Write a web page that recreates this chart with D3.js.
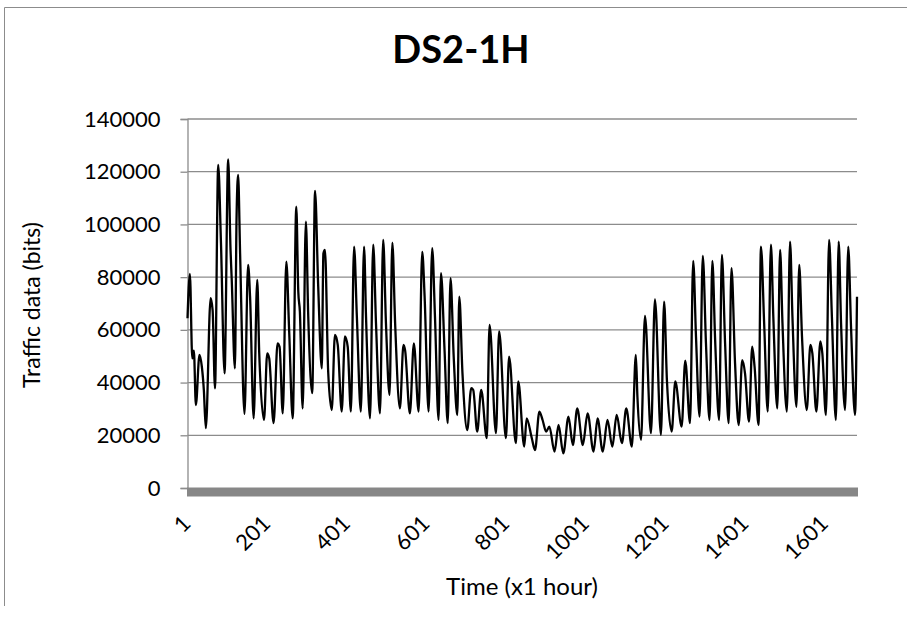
<!DOCTYPE html>
<html>
<head>
<meta charset="utf-8">
<script src="https://cdn.jsdelivr.net/npm/d3@7"></script>
<style>
  body { margin: 0; background: #fff; }
  svg { display: block; font-family: Lato, "Noto Sans", sans-serif; }
</style>
</head>
<body>
<svg width="907" height="630"></svg>
<script>
// hour index (x1 hour) and traffic in bits
var hours = [1, 7, 13, 17, 22, 31, 37, 42, 47, 59, 64, 70, 78, 85, 94, 103, 109, 112, 120, 124,
  128, 133, 144, 153, 158, 167, 176, 181, 193, 201, 206, 217, 227, 232, 240, 249, 256, 265, 274, 279,
  283, 290, 298, 304, 314, 321, 329, 338, 342, 346, 354, 363, 371, 378, 388, 396, 403, 411, 419, 426,
  436, 444, 449, 459, 467, 474, 484, 492, 499, 508, 515, 522, 534, 543, 547, 559, 569, 581, 590, 596,
  606, 615, 622, 631, 637, 646, 654, 661, 669, 678, 683, 691, 703, 713, 718, 728, 738, 752, 759, 775,
  783, 800, 808, 825, 831, 846, 852, 865, 873, 884, 892, 901, 909, 922, 932, 944, 957, 968, 979, 993,
  1005, 1020, 1030, 1043, 1055, 1067, 1078, 1091, 1102, 1116, 1126, 1130, 1139, 1149, 1164, 1174, 1189, 1197, 1204, 1216,
  1225, 1241, 1250, 1262, 1270, 1277, 1286, 1294, 1302, 1311, 1318, 1325, 1335, 1342, 1350, 1359, 1366, 1375, 1384, 1393,
  1400, 1410, 1418, 1424, 1434, 1440, 1448, 1457, 1465, 1471, 1481, 1488, 1494, 1505, 1513, 1519, 1529, 1536, 1543, 1555,
  1564, 1569, 1579, 1589, 1594, 1603, 1611, 1618, 1628, 1635, 1641, 1651, 1659, 1666, 1676, 1681];
var traffic = [64400, 81200, 49200, 52100, 31500, 50500, 46000, 37200, 22700, 72000, 67500, 37800, 122600, 92900, 43500, 124700, 90300, 79000, 45400, 101700,
  118800, 89000, 28100, 84600, 72600, 26400, 79000, 51100, 25800, 51100, 49200, 24600, 54900, 53600, 28300, 85900, 60000, 26400, 106700, 74500,
  66900, 30200, 101100, 65000, 36000, 112700, 76400, 45400, 89000, 90300, 44200, 29600, 58100, 54300, 29000, 57500, 53600, 29000, 91600, 65000,
  29000, 91600, 65000, 26400, 92300, 62500, 28300, 94100, 62500, 35300, 93100, 62500, 30200, 54300, 52300, 28300, 54900, 29000, 89600, 72600,
  29000, 91000, 65000, 25800, 81500, 52400, 24600, 79600, 49800, 27700, 72600, 43500, 22000, 37900, 37200, 21400, 37200, 18900, 61900, 20800,
  59400, 18900, 49800, 17000, 40400, 15700, 26400, 18900, 14400, 29000, 25800, 21400, 23300, 13800, 23900, 13100, 27100, 16300, 30200, 16300,
  28300, 13800, 26400, 13800, 25800, 15700, 27700, 17000, 30200, 15700, 50500, 34600, 18300, 65300, 20800, 71600, 20200, 70700, 41000, 21400,
  40400, 23300, 48300, 24600, 86200, 57400, 27100, 88100, 54900, 25800, 86200, 56200, 25800, 88400, 54900, 24600, 83400, 47300, 23900, 48500,
  43500, 25200, 53600, 46000, 23900, 91600, 62500, 29000, 92300, 65000, 30200, 90300, 62500, 29000, 93500, 65000, 30800, 84600, 57400, 29600,
  54300, 51100, 29000, 55600, 51100, 27700, 94100, 65000, 25800, 93500, 62500, 29600, 91600, 61200, 27700, 72600];
var yTicks = [0, 20000, 40000, 60000, 80000, 100000, 120000, 140000];
var xTicks = [1, 201, 401, 601, 801, 1001, 1201, 1401, 1601];

var svg = d3.select('svg');
var gridColor = '#8c8c8c';

var x = d3.scaleLinear().domain([1, 1681]).range([187.5, 857]);
var y = d3.scaleLinear().domain([0, 140000]).range([488, 119]);

// chart frame (left and top edges visible)
svg.append('path')
    .attr('d', 'M4.5,606V7.5H907')
    .attr('fill', 'none')
    .attr('stroke', gridColor)
    .attr('stroke-width', 1);

// gridlines
svg.append('g')
  .selectAll('line')
    .data(yTicks.slice(1))
  .enter().append('line')
    .attr('x1', x.range()[0]).attr('x2', x.range()[1])
    .attr('y1', function(d){ return y(d); })
    .attr('y2', function(d){ return y(d); })
    .attr('stroke', gridColor)
    .attr('stroke-width', 1.3);

// y axis
var yAxis = svg.append('g')
    .attr('transform', 'translate(187.5,0)')
    .call(d3.axisLeft(y).tickValues(yTicks).tickSize(7).tickPadding(20).tickFormat(d3.format('d')));
yAxis.select('.domain').attr('stroke', gridColor).attr('stroke-width', 1.3);
yAxis.selectAll('.tick line').attr('stroke', gridColor).attr('stroke-width', 1.3);
yAxis.selectAll('.tick text')
    .attr('font-size', 22)
    .attr('font-family', 'Lato, sans-serif')
    .attr('fill', '#000');

// thick category axis bar
svg.append('rect')
    .attr('x', 187)
    .attr('y', 487.5)
    .attr('width', 858 - 187)
    .attr('height', 9)
    .attr('fill', '#878787');

// x tick labels, rotated like the spreadsheet export
var xAxis = svg.append('g')
    .attr('transform', 'translate(0,488)')
    .call(d3.axisBottom(x).tickValues(xTicks).tickSize(0).tickFormat(d3.format('d')));
xAxis.select('.domain').remove();
xAxis.selectAll('.tick text')
    .attr('font-size', 22)
    .attr('font-family', 'Lato, sans-serif')
    .attr('fill', '#000')
    .attr('text-anchor', 'end')
    .attr('dy', null)
    .attr('y', null)
    .attr('transform', 'translate(4,37) rotate(-45)');

// series line
var line = d3.line()
    .x(function(d, i){ return x(hours[i]); })
    .y(function(d){ return y(d); })
    .curve(d3.curveMonotoneX);

svg.append('path')
    .datum(traffic)
    .attr('d', line)
    .attr('fill', 'none')
    .attr('stroke', '#000')
    .attr('stroke-width', 2.3)
    .attr('stroke-linejoin', 'round');

// titles
svg.append('text')
    .attr('x', 461).attr('y', 63)
    .attr('text-anchor', 'middle')
    .attr('font-size', 38)
    .attr('font-weight', 'bold')
    .text('DS2-1H');

svg.append('text')
    .attr('transform', 'translate(40,305) rotate(-90)')
    .attr('text-anchor', 'middle')
    .attr('font-size', 23)
    .text('Traffic data (bits)');

svg.append('text')
    .attr('x', 522).attr('y', 595)
    .attr('text-anchor', 'middle')
    .attr('font-size', 24)
    .text('Time (x1 hour)');
</script>
</body>
</html>
